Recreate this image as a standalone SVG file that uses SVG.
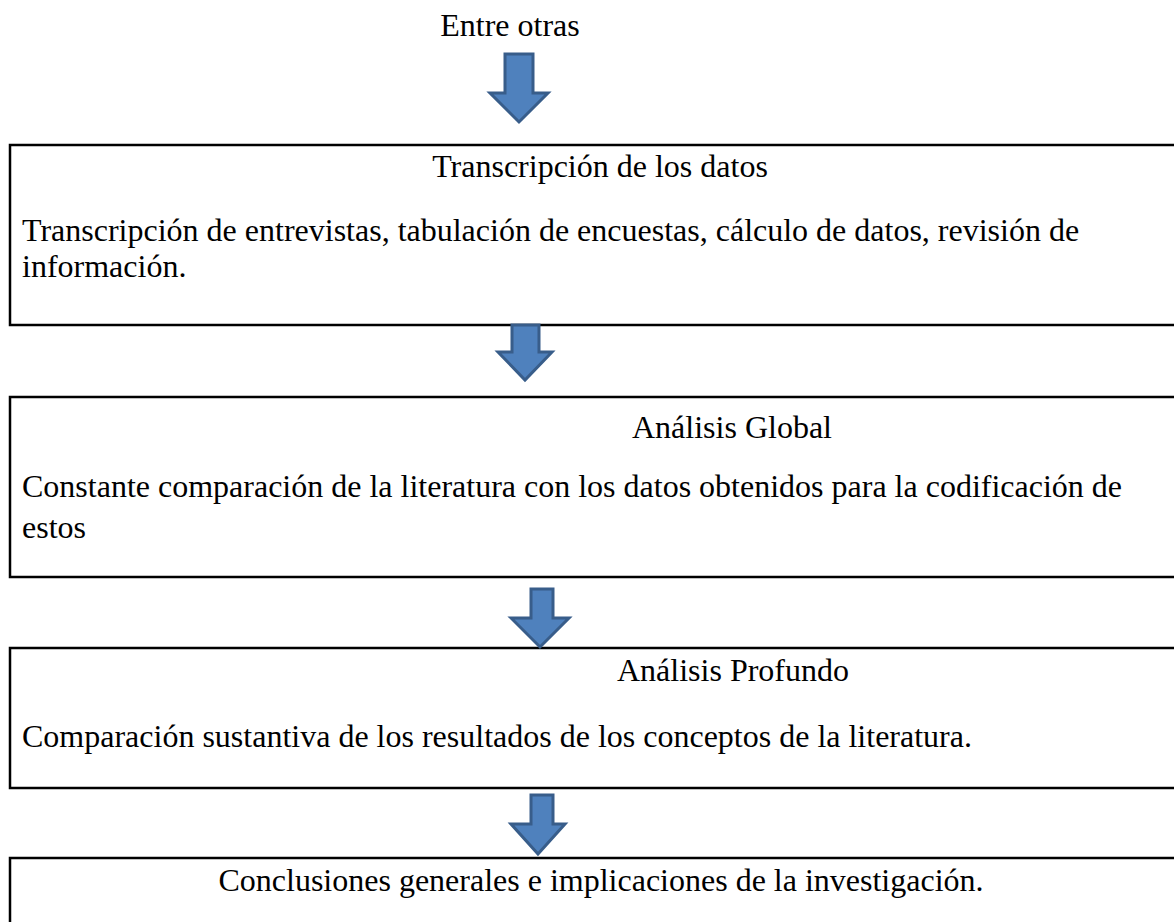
<svg xmlns="http://www.w3.org/2000/svg" width="1174" height="922" viewBox="0 0 1174 922">
<style>
.t{font-family:"Liberation Serif","Times New Roman",serif;font-size:32px;fill:#000}
.c{text-anchor:middle}
.box{fill:#fff;stroke:#000;stroke-width:2.5}
.arr{fill:#4F81BD;stroke:#385D8A;stroke-width:3;stroke-linejoin:miter}
</style>
<rect width="1174" height="922" fill="#fff"/>
<g id="label-top"><text class="t c" x="510" y="36">Entre otras</text></g>
<g id="box1">
<rect class="box" x="10" y="145" width="1180" height="180"/>
<text class="t c" x="600" y="177">Transcripción de los datos</text>
<text class="t" x="22" y="241">Transcripción de entrevistas, tabulación de encuestas, cálculo de datos, revisión de</text>
<text class="t" x="22" y="277">información.</text>
</g>
<g id="box2">
<rect class="box" x="10" y="397" width="1180" height="180"/>
<text class="t c" x="732" y="438">Análisis Global</text>
<text class="t" x="22" y="497">Constante comparación de la literatura con los datos obtenidos para la codificación de</text>
<text class="t" x="22" y="538">estos</text>
</g>
<g id="box3">
<rect class="box" x="10" y="648" width="1180" height="140"/>
<text class="t c" x="733" y="681">Análisis Profundo</text>
<text class="t" x="22" y="747">Comparación sustantiva de los resultados de los conceptos de la literatura.</text>
</g>
<g id="box4">
<rect class="box" x="10" y="858" width="1180" height="100"/>
<text class="t c" x="601" y="891">Conclusiones generales e implicaciones de la investigación.</text>
</g>
<g id="connectors">
<path class="arr" d="M505,54 H533 V93 H548 L519,122 L490,93 H505 Z"/>
<path class="arr" d="M512,325 H539 V352 H552 L525,380 L498,352 H512 Z"/>
<path class="arr" d="M531,589 H553 V618 H569 L540,647 L511,618 H531 Z"/>
<path class="arr" d="M531,795 H553 V824 H565 L538,854 L511,824 H531 Z"/>
</g>
</svg>
